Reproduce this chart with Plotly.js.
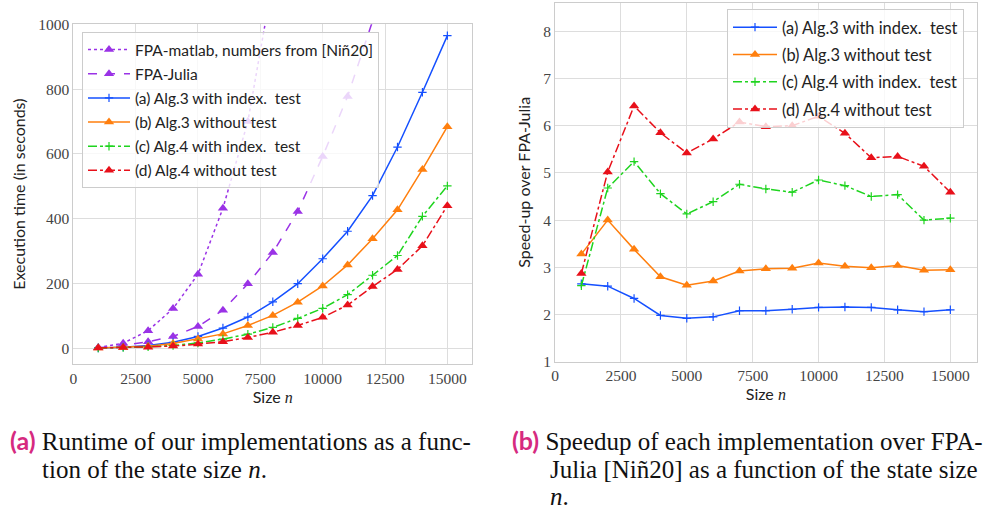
<!DOCTYPE html>
<html>
<head>
<meta charset="utf-8">
<script src="https://cdn.plot.ly/plotly-3.0.1.min.js"></script>
<style>html,body{margin:0;padding:0;background:#fff;}#plot{width:986px;height:515px;}</style>
</head>
<body>
<div id="plot"></div>
<script>
// ---- data ----
const sizes = [1000,2000,3000,4000,5000,6000,7000,8000,9000,10000,11000,12000,13000,14000,15000];
const matlabSizes = [1000,2000,3000,4000,5000,6000,7000,8000];
const timeMatlab = [2,15,54,122,228,432,700,1135];
const timeJulia = [1,8,20,36,67,117,199,295,422,592,777,1010,1302,1625,2022];
const timeA = [0.5,3,8,18,36,62,96,143,199,276,361,471,621,790,965];
const timeB = [0.3,2,6,14,28,44,70,101,142,192,257,338,427,552,684];
const timeC = [0.4,2,4,8,16,28,43,64,92,123,165,225,286,407,501];
const timeD = [0.3,1.6,3.1,6.2,12.4,20,33,49,70,95,133,190,243,316,440];
const speedA = [2.65,2.60,2.34,1.98,1.92,1.95,2.08,2.08,2.11,2.15,2.16,2.15,2.10,2.06,2.10];
const speedB = [3.28,4.00,3.38,2.80,2.62,2.71,2.92,2.97,2.98,3.09,3.02,2.99,3.04,2.94,2.95];
const speedC = [2.61,4.68,5.24,4.56,4.13,4.39,4.76,4.66,4.59,4.85,4.73,4.50,4.54,4.00,4.04];
const speedD = [2.87,5.02,6.42,5.85,5.42,5.72,6.08,5.98,6.00,6.20,5.84,5.32,5.35,5.14,4.59];
const names = {
  matlab: "FPA-matlab, numbers from [Niñ20]",
  julia: "FPA-Julia",
  a: "(a) Alg.3 with index.  test",
  b: "(b) Alg.3 without test",
  c: "(c) Alg.4 with index.  test",
  d: "(d) Alg.4 without test"
};
const xTicks = [0,2500,5000,7500,10000,12500,15000];
const yTicksLeft = [0,200,400,600,800,1000];
const yTicksRight = [1,2,3,4,5,6,7,8];

// ---- styles ----
const PURPLE = "#9a32e6", BLUE = "#1550ff", ORANGE = "#ff7f0e", GREEN = "#1fd41f", RED = "#e8101a";
const tri = c => ({symbol: "triangle-up", size: 9, color: c});
const plus = c => ({symbol: "cross-thin", size: 6, color: c, line: {color: c, width: 1.2}});
function tr(x, y, name, color, dash, marker, xa, ya, leg, grp) {
  return {x: x, y: y, name: name, type: "scatter", mode: "lines+markers",
    line: {color: color, width: 1.5, dash: dash}, marker: marker,
    xaxis: xa, yaxis: ya, legend: leg, legendgroup: grp};
}
const data = [
  tr(matlabSizes, timeMatlab, names.matlab, PURPLE, "dot", tri(PURPLE), "x", "y", "legend", "g1"),
  tr(sizes, timeJulia, names.julia, PURPLE, "dash", tri(PURPLE), "x", "y", "legend", "g2"),
  tr(sizes, timeA, names.a, BLUE, "solid", plus(BLUE), "x", "y", "legend", "g3"),
  tr(sizes, timeB, names.b, ORANGE, "solid", tri(ORANGE), "x", "y", "legend", "g4"),
  tr(sizes, timeC, names.c, GREEN, "dashdot", plus(GREEN), "x", "y", "legend", "g5"),
  tr(sizes, timeD, names.d, RED, "dashdot", tri(RED), "x", "y", "legend", "g6"),
  tr(sizes, speedA, names.a, BLUE, "solid", plus(BLUE), "x2", "y2", "legend2", "h1"),
  tr(sizes, speedB, names.b, ORANGE, "solid", tri(ORANGE), "x2", "y2", "legend2", "h2"),
  tr(sizes, speedC, names.c, GREEN, "dashdot", plus(GREEN), "x2", "y2", "legend2", "h3"),
  tr(sizes, speedD, names.d, RED, "dashdot", tri(RED), "x2", "y2", "legend2", "h4")
];

const W = 986, H = 515;
const tickFont = {family: "Liberation Serif, serif", size: 15.5, color: "#444"};
const labFont = {family: "Lato, sans-serif", size: 16, color: "#222"};
const sizeTitle = 'Size <span style="font-family:Liberation Serif;font-style:italic">n</span>';
function ax(domain, range, ticks, anchor, title, standoff) {
  return {domain: domain, range: range, tickvals: ticks, ticktext: ticks.map(String),
    anchor: anchor, showgrid: true, gridcolor: "#dddddd", gridwidth: 1,
    zeroline: false, showline: true, linecolor: "#cccccc", linewidth: 1, mirror: true,
    ticks: "", tickfont: tickFont, automargin: false,
    title: {text: title, font: labFont, standoff: standoff}};
}
const capFont = {family: "Liberation Serif, serif", size: 25, color: "#111"};
const lab = t => '<span style="font-family:Lato;font-weight:bold;color:#d62a80">' + t + '</span>';
function cap(x, y, text) {
  return {xref: "paper", yref: "paper", x: x/W, y: 1-y/H, xanchor: "left", yanchor: "middle",
    showarrow: false, text: text, font: capFont};
}
const layout = {
  width: W, height: H, margin: {l: 0, r: 0, t: 0, b: 0},
  paper_bgcolor: "#fff", plot_bgcolor: "#fff", showlegend: true,
  xaxis: ax([73.3/W, 472.3/W], [0, 16000], xTicks, "y", sizeTitle, 2),
  yaxis: ax([1-364/H, 1-24.3/H], [-49, 1000], yTicksLeft, "x", "Execution time (in seconds)", 8),
  xaxis2: ax([555/W, 976.7/W], [0, 16000], xTicks, "y2", sizeTitle, 2),
  yaxis2: ax([1-361.7/H, 1-3/H], [1, 8.6], yTicksRight, "x2", "Speed-up over FPA-Julia", 8),
  legend: {x: 82/W, y: 1-32/H, xanchor: "left", yanchor: "top", itemwidth: 42,
    bgcolor: "rgba(255,255,255,0.8)", bordercolor: "#cccccc", borderwidth: 1,
    font: {family: "Lato, sans-serif", size: 15.5, color: "#222"}, tracegroupgap: 1},
  legend2: {x: 727/W, y: 1-9/H, xanchor: "left", yanchor: "top", itemwidth: 44,
    bgcolor: "rgba(255,255,255,0.8)", bordercolor: "#cccccc", borderwidth: 1,
    font: {family: "Lato, sans-serif", size: 16.4, color: "#222"}, tracegroupgap: 3},
  annotations: [
    cap(8, 440, lab("(a)") + " Runtime of our implementations as a func-"),
    cap(40, 469, "tion of the state size <i>n</i>."),
    cap(510, 440, lab("(b)") + " Speedup of each implementation over FPA-"),
    cap(548, 469, "Julia [Niñ20] as a function of the state size"),
    cap(548, 496, "<i>n</i>.")
  ]
};
Plotly.newPlot("plot", data, layout, {staticPlot: true, displayModeBar: false});
</script>
</body>
</html>
